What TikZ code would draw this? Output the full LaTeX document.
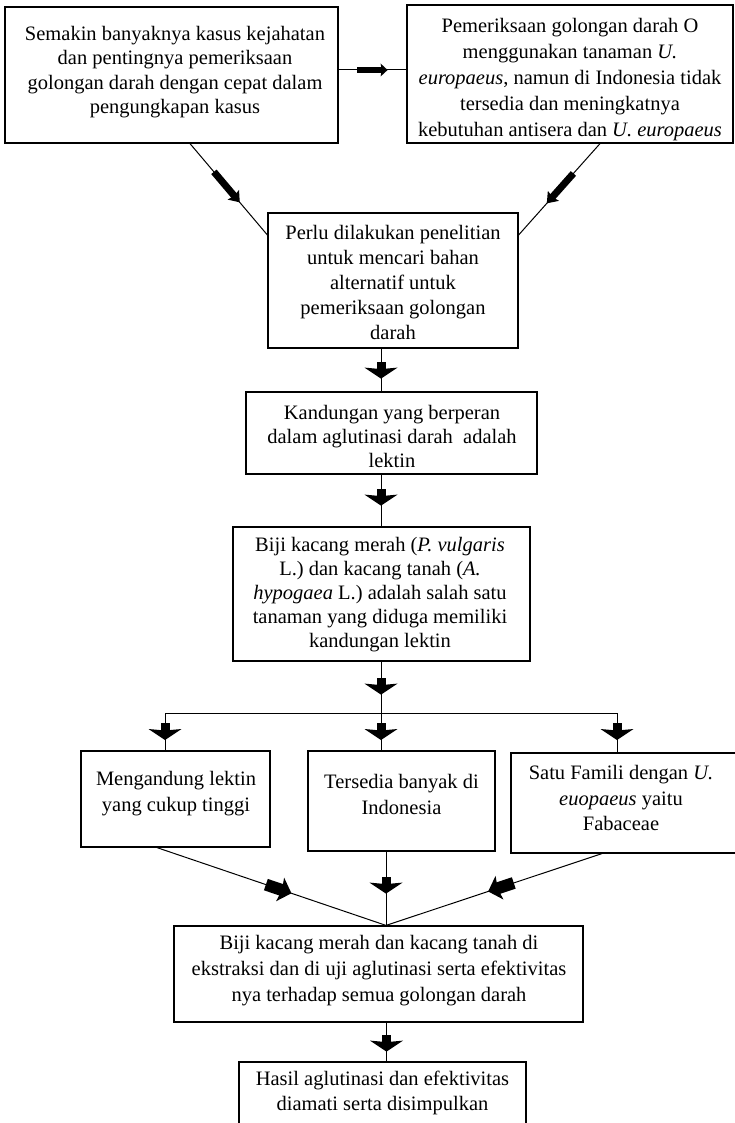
\documentclass[tikz,border=0pt]{standalone}
\usepackage{fontspec}
\setmainfont{Liberation Serif}
\usetikzlibrary{decorations.markings,calc}
\tikzset{
  box/.style={draw, line width=1.2pt, inner sep=0pt},
  txt/.style={align=center, inner sep=0pt, font=\fontsize{20.5}{25}\selectfont},
  conn/.style={line width=1pt},
  farrow/.style n args={6}{postaction={decorate}, decoration={markings, mark=at position #1 with {
      \fill (-#4+#6+0.5pt,-#3/2) rectangle (-#4-#2,#3/2);
      \fill (0pt,0pt) -- (-#4,#5/2) -- (-#4+#6,0pt) -- (-#4,-#5/2) -- cycle;}}},
  harr/.style={farrow={#1}{24pt}{6.5pt}{7pt}{13pt}{1pt}},
  darr/.style={farrow={#1}{30pt}{7pt}{10pt}{15pt}{1.5pt}},
  varr/.style={farrow={#1}{6pt}{9pt}{11pt}{33pt}{1.5pt}},
  larr/.style={farrow={#1}{15pt}{12pt}{12pt}{25pt}{2pt}},
}
\begin{document}
\begin{tikzpicture}[x=1pt,y=-1pt]
\clip (0,0) rectangle (735,1123);
\fill[white] (0,0) rectangle (735,1123);

% boxes
\node[box, minimum width=333pt, minimum height=136pt] (b1) at (171.5,75) {};
\node[box, minimum width=326pt, minimum height=138pt] (b2) at (570,74) {};
\node[box, minimum width=250pt, minimum height=135pt] (b3) at (393,280.5) {};
\node[box, minimum width=291pt, minimum height=82pt] (b4) at (391.5,433) {};
\node[box, minimum width=297pt, minimum height=134pt] (b5) at (381.5,594) {};
\node[box, minimum width=189pt, minimum height=96pt] (b6) at (175.5,799) {};
\node[box, minimum width=187pt, minimum height=100pt] (b7) at (401.5,801) {};
\node[box, minimum width=229pt, minimum height=100pt] (b8) at (625.5,803) {};
\node[box, minimum width=409pt, minimum height=96pt] (b9) at (378.5,974) {};
\node[box, minimum width=287pt, minimum height=78pt] (b10) at (382.5,1101) {};

% texts
\node[txt, font=\fontsize{20.5}{24.5}\selectfont] (t1) at (175,72) {Semakin banyaknya kasus kejahatan\\dan pentingnya pemeriksaan\\golongan darah dengan cepat dalam\\pengungkapan kasus};
\node[txt, font=\fontsize{20.5}{26}\selectfont] (t2) at (570,80) {Pemeriksaan golongan darah O\\menggunakan tanaman \textit{U.}\\\textit{europaeus}, namun di Indonesia tidak\\tersedia dan meningkatnya\\kebutuhan antisera dan \textit{U. europaeus}};
\node[txt] (t3) at (393,282) {Perlu dilakukan penelitian\\untuk mencari bahan\\alternatif untuk\\pemeriksaan golongan\\darah};
\node[txt, font=\fontsize{20.5}{24}\selectfont] (t4) at (392,436) {Kandungan yang berperan\\dalam aglutinasi darah\ \ adalah\\lektin};
\node[txt, font=\fontsize{20.5}{24}\selectfont] (t5) at (380,595) {Biji kacang merah (\textit{P. vulgaris}\\L.) dan kacang tanah (\textit{A.}\\\textit{hypogaea} L.) adalah salah satu\\tanaman yang diduga memiliki\\kandungan lektin};
\node[txt, font=\fontsize{20.5}{26}\selectfont] (t6) at (176,794) {Mengandung lektin\\yang cukup tinggi};
\node[txt, font=\fontsize{20.5}{26}\selectfont] (t7) at (401.5,794) {Tersedia banyak di\\Indonesia};
\node[txt, font=\fontsize{20.5}{25.5}\selectfont] (t8) at (621,798) {Satu Famili dengan \textit{U.}\\\textit{euopaeus} yaitu\\Fabaceae};
\node[txt, font=\fontsize{20.5}{26}\selectfont] (t9) at (379,971) {Biji kacang merah dan kacang tanah di\\ekstraksi dan di uji aglutinasi serta efektivitas\\nya terhadap semua golongan darah};
\node[txt] (t10) at (382.5,1093) {Hasil aglutinasi dan efektivitas\\diamati serta disimpulkan};

% junction coordinates
\coordinate (split) at (381,713);
\coordinate (barL) at (165,713);
\coordinate (barR) at (617,713);
\coordinate (m9) at ([xshift=7.5pt]b9.north);

% connectors
\draw[conn, harr=49pt] ([yshift=5pt]b1.east) -- ([yshift=4pt]b2.west);
\draw[conn, darr=77pt] ([xshift=18.5pt]b1.south) -- ([yshift=45.5pt]b3.west);
\draw[conn, darr=80pt] ([xshift=30pt]b2.south) -- ([yshift=45.5pt]b3.east);
\draw[conn, varr=30pt] (b3.south -| split) -- (b4.north -| split);
\draw[conn, varr=31pt] (b4.south -| split) -- (b5.north -| split);
\draw[conn, varr=33pt] (b5.south -| split) -- (split);
\draw[conn] (barL) -- (barR);
\draw[conn, varr=27pt] (barL) -- (barL |- b6.north);
\draw[conn, varr=27pt] (split) -- (split |- b7.north);
\draw[conn, varr=27pt] (barR) -- (barR |- b8.north);
\draw[conn, larr=142pt] ([xshift=-18.5pt]b6.south) -- (m9);
\draw[conn, varr=42pt] ([xshift=-15.5pt]b7.south) -- (m9);
\draw[conn, larr=120pt] ([xshift=-23.5pt]b8.south) -- (m9);
\draw[conn, varr=29pt] ([xshift=8pt]b9.south) -- ([xshift=4pt]b10.north);
\end{tikzpicture}
\end{document}
